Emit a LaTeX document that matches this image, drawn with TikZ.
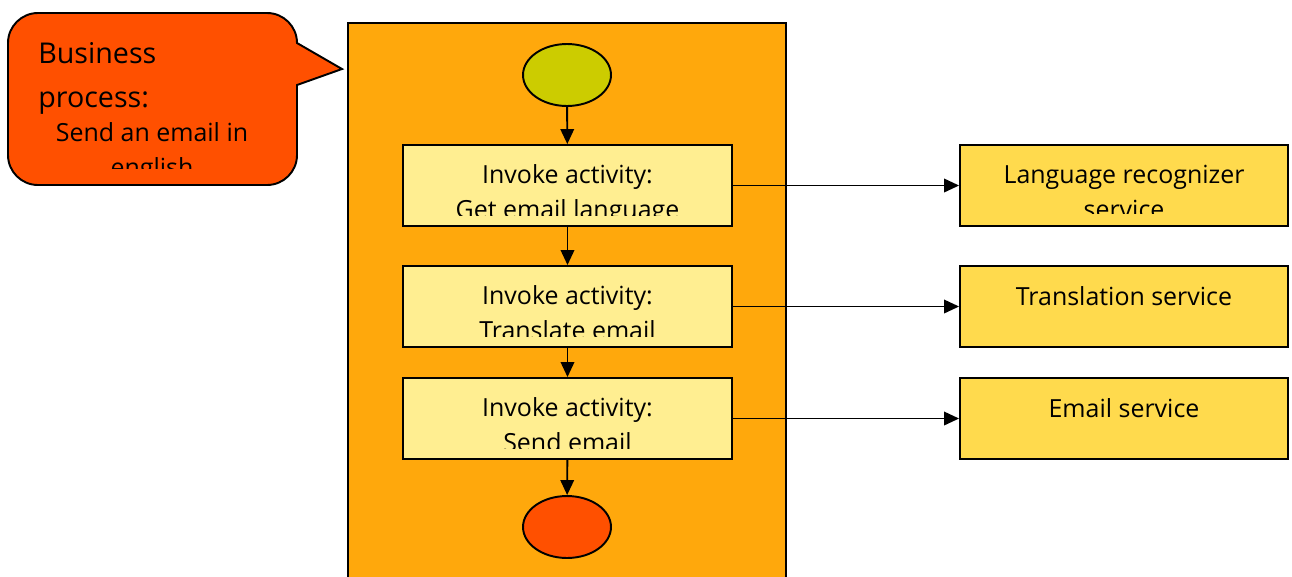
\documentclass[tikz,border=0pt]{standalone}
\usepackage{fontspec}
\setmainfont{Open Sans}
\usetikzlibrary{arrows.meta,shapes.geometric}
\definecolor{poolorange}{RGB}{255,168,12}
\definecolor{actyellow}{RGB}{255,238,145}
\definecolor{svcyellow}{RGB}{255,218,77}
\definecolor{startolive}{RGB}{204,204,0}
\definecolor{hotorange}{RGB}{255,80,0}

\begin{document}
\begin{tikzpicture}[
  x=0.02cm, y=-0.02cm,
  every node/.style={font=\fontsize{14.2pt}{19.4pt}\selectfont},
  pool/.style={draw=black, fill=poolorange, line width=1.1pt},
  activity/.style={draw=black, fill=actyellow, line width=1.1pt,
    minimum width=6.58cm, minimum height=1.62cm, inner sep=0pt},
  service/.style={activity, fill=svcyellow, minimum width=6.56cm},
  event/.style={ellipse, draw=black, line width=1.1pt,
    minimum width=1.76cm, minimum height=1.24cm, inner sep=0pt},
  callout/.style={draw=black, fill=hotorange, line width=1.1pt},
  txt/.style={inner sep=0pt, align=center, anchor=base},
  big/.style={inner sep=0pt, align=left, anchor=base west,
    font=\fontsize{16.3pt}{25pt}\selectfont},
  arr/.style={-{Triangle[length=0.3cm, width=0.27cm]}, draw=black,
    line width=1.1pt}
]
  \useasboundingbox (0,0) rectangle (1292,576);
  \fill[white] (0,0) rectangle (1292,576);

  % process pool
  \path[pool] (348,23) rectangle (786,600);

  % speech bubble
  \path[callout] (342,69) -- (297,85) [rounded corners=0.6cm] -- (297,185)
    -- (8,185) -- (8,13) -- (297,13) [sharp corners] -- (297,43) -- cycle;
  \node[big] (bubtitle) at (38,107) {Business\\process:};
  \begin{scope}
    \clip (8,13) rectangle (297,168);
    \node[txt] (bubtext) at (152,176) {Send an email in\\english};
  \end{scope}

  % flow
  \node[event, fill=startolive] (start) at (567,75) {};
  \node[activity] (act1) at (567.5,185.5) {};
  \node[activity] (act2) at (567.5,306.5) {};
  \node[activity] (act3) at (567.5,418.5) {};
  \node[event, fill=hotorange] (end) at (567,527) {};

  \node[service] (svc1) at (1124,185.5) {};
  \node[service] (svc2) at (1124,306.5) {};
  \node[service] (svc3) at (1124,418.5) {};

  % labels, cut at the box bottom
  \begin{scope}
    \clip (403,145) rectangle (732,215);
    \node[txt] (t1) at (567.5,218) {Invoke activity:\\Get email language};
  \end{scope}
  \begin{scope}
    \clip (403,266) rectangle (732,336);
    \node[txt] (t2) at (567.5,339) {Invoke activity:\\Translate email};
  \end{scope}
  \begin{scope}
    \clip (403,378) rectangle (732,448);
    \node[txt] (t3) at (567.5,451) {Invoke activity:\\Send email};
  \end{scope}
  \begin{scope}
    \clip (960,145) rectangle (1288,213);
    \node[txt] (s1) at (1124,218) {Language recognizer\\service};
  \end{scope}
  \node[txt] (s2) at (1124,305) {Translation service};
  \node[txt] (s3) at (1124,417) {Email service};

  \draw[arr] (start) -- (act1);
  \draw[arr] (act1) -- (act2);
  \draw[arr] (act2) -- (act3);
  \draw[arr] (act3) -- (end);

  \draw[arr] (act1.east) -- (svc1.west);
  \draw[arr] (act2.east) -- (svc2.west);
  \draw[arr] (act3.east) -- (svc3.west);
\end{tikzpicture}
\end{document}
